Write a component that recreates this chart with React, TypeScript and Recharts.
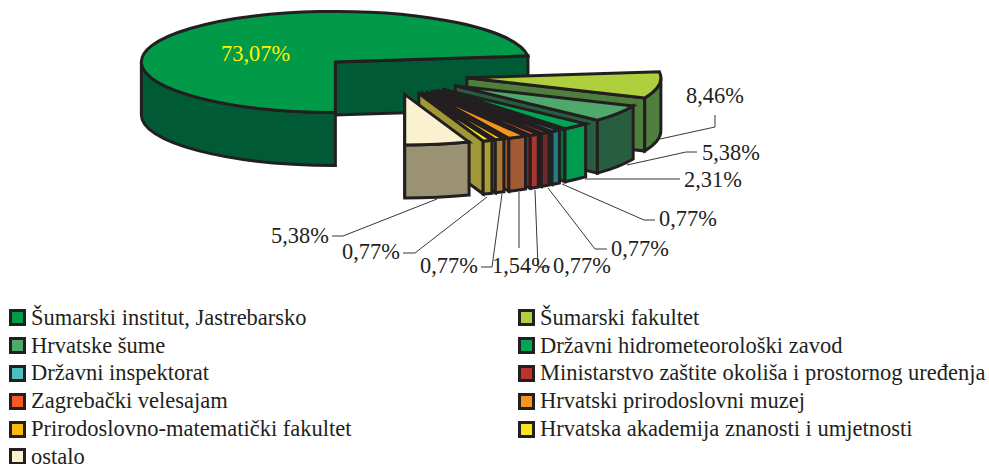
import { PieChart, Pie, Legend } from "recharts";

const names = [
  "Šumarski institut, Jastrebarsko",
  "Šumarski fakultet",
  "Hrvatske šume",
  "Državni hidrometeorološki zavod",
  "Državni inspektorat",
  "Ministarstvo zaštite okoliša i prostornog uređenja",
  "Zagrebački velesajam",
  "Hrvatski prirodoslovni muzej",
  "Prirodoslovno-matematički fakultet",
  "Hrvatska akademija znanosti i umjetnosti",
  "ostalo",
];
const shares = [73.07, 8.46, 5.38, 2.31, 0.77, 0.77, 0.77, 1.54, 0.77, 0.77, 5.38];
const topColors = [
  "#009a49", "#afd03c", "#4fa96d", "#00a651", "#4dbfc0", "#be312e",
  "#f15a24", "#f7931e", "#fdb913", "#f9e51f", "#f9f1cf",
];
const sideColors = [
  "#005a36", "#4e7f3c", "#275e40", "#009b4c", "#1f7f86", "#6d2a2d",
  "#a8362f", "#a15a33", "#a67b35", "#a8a033", "#9a9272",
];
const cutColors = [
  "#005a36", "#4e7f3c", "#275e40", "#00703c", "#14585e", "#4c1e20",
  "#7c2823", "#a15a33", "#a67b35", "#a09836", "#9a9272",
];

// leader lines and label anchors, same order as the slices
const labelAnchors = [
  [221, 61], [686, 103], [702, 160], [684, 187], [659, 226], [611, 256],
  [553, 273], [492, 273], [420, 273], [342, 259], [271, 243],
];
const leaders: number[][][] = [
  [],
  [[715, 115], [715, 127], [660, 139]],
  [[697, 152], [686, 152], [627, 165]],
  [[680, 179], [585, 179]],
  [[655, 220], [644, 220], [562, 184]],
  [[607, 249], [595, 249], [548, 188]],
  [[550, 267], [538, 267], [535, 190]],
  [[519, 248], [519, 192]],
  [[481, 267], [492, 267], [502, 194]],
  [[403, 253], [415, 253], [487, 197]],
  [[332, 236], [343, 236], [437, 199]],
];

const data = names.map((name, i) => ({
  name,
  value: shares[i],
  fill: topColors[i],
  side: sideColors[i],
  cut: cutColors[i],
}));

const INK = "#231f20";
const SQUASH = 50.5 / 194;
const DEPTH = 53;
const EXPLODE = 0.39;
const RAD = Math.PI / 180;

function Slice(props: any) {
  const { cx, cy, outerRadius: r, startAngle, endAngle, midAngle, fill, side, cut } = props;
  const ry = r * SQUASH;
  const ox = cx + EXPLODE * r * Math.cos(midAngle * RAD);
  const oy = cy - EXPLODE * ry * Math.sin(midAngle * RAD);
  const px = (a: number) => ox + r * Math.cos(a * RAD);
  const py = (a: number) => oy - ry * Math.sin(a * RAD);

  const large = startAngle - endAngle > 180 ? 1 : 0;
  const top = `M${ox},${oy} L${px(startAngle)},${py(startAngle)} A${r},${ry} 0 ${large} 1 ${px(endAngle)},${py(endAngle)} Z`;
  const cutWall = `M${ox},${oy} L${px(endAngle)},${py(endAngle)} V${py(endAngle) + DEPTH} L${ox},${oy + DEPTH} Z`;

  // outer wall only shows on the lower half of the ellipse
  const walls = [
    [180, 360],
    [-180, 0],
  ].map(([lo, hi]) => {
    const a0 = Math.min(startAngle, hi);
    const a1 = Math.max(endAngle, lo);
    if (a0 <= a1) return null;
    return `M${px(a0)},${py(a0)} A${r},${ry} 0 0 1 ${px(a1)},${py(a1)} V${py(a1) + DEPTH} A${r},${ry} 0 0 0 ${px(a0)},${py(a0) + DEPTH} Z`;
  });

  return (
    <g stroke={INK} strokeWidth={3} strokeLinejoin="miter">
      <path d={cutWall} fill={cut} />
      {walls.map((d, i) => d && <path key={i} d={d} fill={side} />)}
      <path d={top} fill={fill} />
    </g>
  );
}

function SliceLabel(props: any) {
  const { index, value } = props;
  const [x, y] = labelAnchors[index];
  const points = leaders[index].map((p) => p.join(",")).join(" ");
  return (
    <g>
      {points && <polyline points={points} fill="none" stroke={INK} strokeWidth={0.9} />}
      <text
        x={x}
        y={y}
        fontFamily="'Liberation Serif', serif"
        fontSize={22.4}
        fill={index === 0 ? "#fff200" : INK}
      >
        {value.toFixed(2).replace(".", ",")}%
      </text>
    </g>
  );
}

function LegendGrid({ payload }: any) {
  return (
    <div
      style={{
        display: "grid",
        gridTemplateColumns: "509px 471px",
        gridAutoRows: "27.8px",
        fontFamily: "'Liberation Serif', serif",
        fontSize: 22.5,
        color: INK,
      }}
    >
      {(payload || []).map((item: any) => (
        <div key={item.value} style={{ display: "flex", alignItems: "center", whiteSpace: "nowrap" }}>
          <span
            style={{
              width: 11,
              height: 11,
              border: `3px solid ${INK}`,
              background: item.payload?.fill ?? item.color,
              marginRight: 5,
              flex: "none",
            }}
          />
          {item.value}
        </div>
      ))}
    </div>
  );
}

export default function App() {
  return (
    <div style={{ position: "absolute", left: 0, top: 0, width: 989, height: 464, background: "#fff" }}>
      <PieChart width={989} height={464} margin={{ top: 0, right: 0, bottom: 0, left: 0 }}>
        <Pie
          data={data}
          dataKey="value"
          nameKey="name"
          cx={392}
          cy={75}
          innerRadius={0}
          outerRadius={194}
          startAngle={270}
          endAngle={-90}
          isAnimationActive={false}
          shape={Slice}
          label={SliceLabel}
          labelLine={false}
        />
        <Legend
          content={LegendGrid}
          itemSorter={null}
          wrapperStyle={{ position: "absolute", left: 9, top: 304, width: 980, bottom: "auto" }}
        />
      </PieChart>
    </div>
  );
}
